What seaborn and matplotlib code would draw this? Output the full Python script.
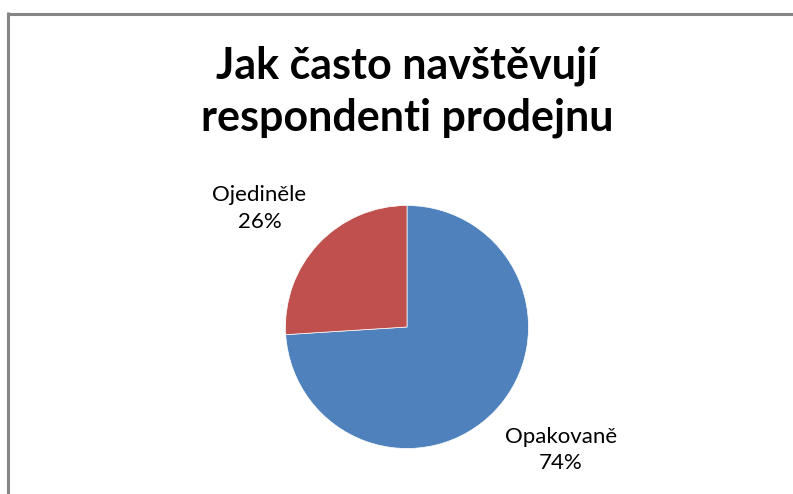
import matplotlib
matplotlib.use("Agg")
import matplotlib.pyplot as plt
import seaborn as sns
from matplotlib.lines import Line2D

sns.set_theme(style="white")
plt.rcParams['font.family'] = ['Lato', 'DejaVu Sans']

title_lines = ["Jak často navštěvují", "respondenti prodejnu"]
categories = ["Opakovaně", "Ojediněle"]
values = [74, 26]
colors = ["#4F81BD", "#C0504D"]

W, H = 793, 494
fig = plt.figure(figsize=(W / 100, H / 100), dpi=100)
fig.patch.set_facecolor("white")

# pie axes: center (407, 327) px, radius ~121 px, limits +/-2
cx, cy, r = 407, 327, 121.5
L = 2.0
side = 2 * L * r
ax = fig.add_axes([(cx - side / 2) / W, (H - cy - side / 2) / H, side / W, side / H])
ax.pie(values, colors=colors, startangle=90, counterclock=False,
       wedgeprops=dict(edgecolor="white", linewidth=0.5))
ax.set_xlim(-L, L)
ax.set_ylim(-L, L)
ax.set_aspect("equal")
ax.axis("off")

label_pos = {"Opakovaně": (1.264, -1.01), "Ojediněle": (-1.215, 0.975)}
for cat, val in zip(categories, values):
    x, y = label_pos[cat]
    ax.text(x, y, f"{cat}\n{val}%", ha="center", va="center", fontsize=16,
            color="black", linespacing=1.4)

# title
fig.text(407 / W, 1 - 78 / H, title_lines[0], ha="center", va="baseline",
         fontsize=31, fontweight="bold", color="black")
fig.text(407 / W, 1 - 130 / H, title_lines[1], ha="center", va="baseline",
         fontsize=31, fontweight="bold", color="black")

# chart border (top and left visible)
fig.add_artist(Line2D([8 / W, 1.0], [1 - 14 / H, 1 - 14 / H], transform=fig.transFigure,
                      color="#868686", linewidth=2.2, solid_capstyle="butt"))
fig.add_artist(Line2D([8 / W, 8 / W], [1 - 12.5 / H, 0.0], transform=fig.transFigure,
                      color="#868686", linewidth=2.2, solid_capstyle="butt"))

fig.savefig("out.png", dpi=100)
